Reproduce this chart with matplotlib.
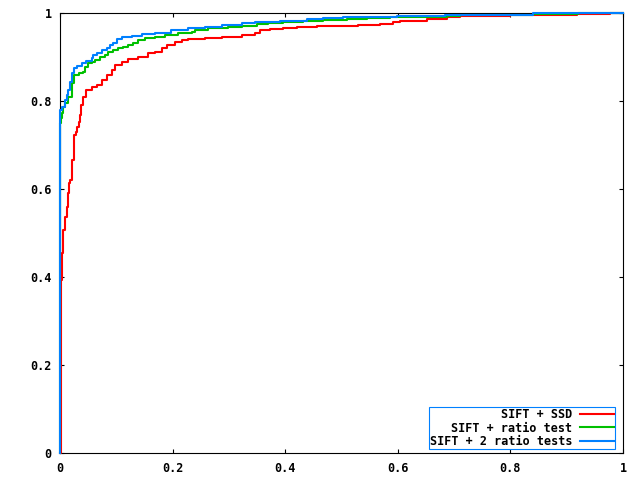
import matplotlib
matplotlib.use("Agg")
import matplotlib.pyplot as plt

labels = ["SIFT + SSD", "SIFT + ratio test", "SIFT + 2 ratio tests"]
colors = ["#ff0000", "#00c000", "#0080ff"]

ssd_x = [0.0, 0.0, 0.002, 0.002, 0.003, 0.006, 0.009, 0.012, 0.014, 0.016, 0.018, 0.021, 0.022,
         0.024, 0.025, 0.028, 0.030, 0.033, 0.036, 0.037, 0.041, 0.047, 0.056, 0.065, 0.074,
         0.083, 0.092, 0.098, 0.110, 0.121, 0.139, 0.156, 0.169, 0.181, 0.190, 0.204, 0.217,
         0.227, 0.258, 0.288, 0.323, 0.346, 0.355, 0.373, 0.396, 0.421, 0.456, 0.529, 0.568,
         0.591, 0.604, 0.622, 0.652, 0.670, 0.687, 0.710, 0.746, 0.799, 0.918, 0.977, 1.0]
ssd_y = [0.0, 0.0, 0.173, 0.394, 0.455, 0.508, 0.537, 0.560, 0.592, 0.614, 0.621, 0.644, 0.667,
         0.683, 0.723, 0.730, 0.742, 0.753, 0.769, 0.792, 0.810, 0.826, 0.833, 0.837, 0.848,
         0.860, 0.871, 0.883, 0.889, 0.896, 0.901, 0.910, 0.912, 0.921, 0.928, 0.935, 0.939,
         0.942, 0.944, 0.946, 0.951, 0.955, 0.961, 0.964, 0.967, 0.970, 0.971, 0.974, 0.976,
         0.980, 0.982, 0.983, 0.986, 0.988, 0.991, 0.994, 0.995, 0.997, 0.998, 1.0, 1.0]

ratio_x = [0.0, 0.0, 0.002, 0.003, 0.006, 0.009, 0.015, 0.021, 0.024, 0.033, 0.041, 0.044, 0.050,
           0.056, 0.062, 0.071, 0.080, 0.085, 0.094, 0.103, 0.112, 0.121, 0.130, 0.139, 0.151,
           0.169, 0.187, 0.210, 0.234, 0.240, 0.263, 0.298, 0.323, 0.350, 0.369, 0.396, 0.432,
           0.467, 0.510, 0.545, 0.586, 0.627, 0.687, 0.710, 0.840, 0.920, 1.0]
ratio_y = [0.0, 0.750, 0.762, 0.773, 0.787, 0.796, 0.810, 0.842, 0.860, 0.864, 0.866, 0.878, 0.887,
           0.889, 0.894, 0.901, 0.905, 0.912, 0.917, 0.921, 0.924, 0.928, 0.933, 0.939, 0.944,
           0.946, 0.951, 0.955, 0.957, 0.962, 0.966, 0.969, 0.971, 0.975, 0.977, 0.980, 0.983,
           0.985, 0.986, 0.989, 0.991, 0.992, 0.995, 0.997, 0.998, 1.0, 1.0]

two_x = [0.0, 0.0, 0.003, 0.009, 0.012, 0.015, 0.018, 0.021, 0.024, 0.030, 0.039, 0.047, 0.056,
         0.059, 0.065, 0.074, 0.083, 0.089, 0.094, 0.101, 0.110, 0.127, 0.145, 0.169, 0.198,
         0.227, 0.258, 0.288, 0.323, 0.346, 0.391, 0.439, 0.467, 0.503, 0.545, 0.599, 0.684,
         0.840, 1.0]
two_y = [0.0, 0.781, 0.787, 0.803, 0.814, 0.826, 0.844, 0.865, 0.876, 0.880, 0.887, 0.892, 0.898,
         0.905, 0.910, 0.917, 0.921, 0.928, 0.933, 0.942, 0.946, 0.948, 0.953, 0.955, 0.962,
         0.966, 0.969, 0.973, 0.978, 0.980, 0.983, 0.986, 0.989, 0.991, 0.992, 0.994, 0.997,
         1.0, 1.0]

xticks = [0, 0.2, 0.4, 0.6, 0.8, 1]
xtick_labels = ["0", "0.2", "0.4", "0.6", "0.8", "1"]
yticks = [0, 0.2, 0.4, 0.6, 0.8, 1]
ytick_labels = ["0", "0.2", "0.4", "0.6", "0.8", "1"]

font = {"family": "DejaVu Sans Mono", "weight": "bold", "size": 8.5}

fig = plt.figure(figsize=(6.4, 4.8), dpi=100)
ax = fig.add_axes([60 / 640, 1 - 453.3 / 480, 563 / 640, 440 / 480])

series = [(ssd_x, ssd_y), (ratio_x, ratio_y), (two_x, two_y)]
for (xs, ys), lab, col in zip(series, labels, colors):
    ax.plot(xs, ys, drawstyle="steps-post", color=col, lw=1.5, label=lab,
            clip_on=False, zorder=3)

ax.set_xlim(0, 1)
ax.set_ylim(0, 1)
ax.set_xticks(xticks)
ax.set_xticklabels(xtick_labels, fontdict=font)
ax.set_yticks(yticks)
ax.set_yticklabels(ytick_labels, fontdict=font)
ax.tick_params(direction="in", length=3, width=0.8, top=True, right=True, pad=6)
for s in ax.spines.values():
    s.set_linewidth(0.8)

leg = ax.legend(loc="lower right", bbox_to_anchor=(0.986, 0.009), borderaxespad=0,
                markerfirst=False, fancybox=False, framealpha=1, handlelength=2.9,
                handletextpad=0.6, labelspacing=0.05, borderpad=0.1,
                prop={"family": "DejaVu Sans Mono", "weight": "bold", "size": 8.5})
leg.get_frame().set_edgecolor("#0080ff")
leg.get_frame().set_linewidth(0.8)
leg.set_zorder(5)
for t in leg.get_texts():
    t.set_ha("right")

fig.savefig("out.png", dpi=100)
